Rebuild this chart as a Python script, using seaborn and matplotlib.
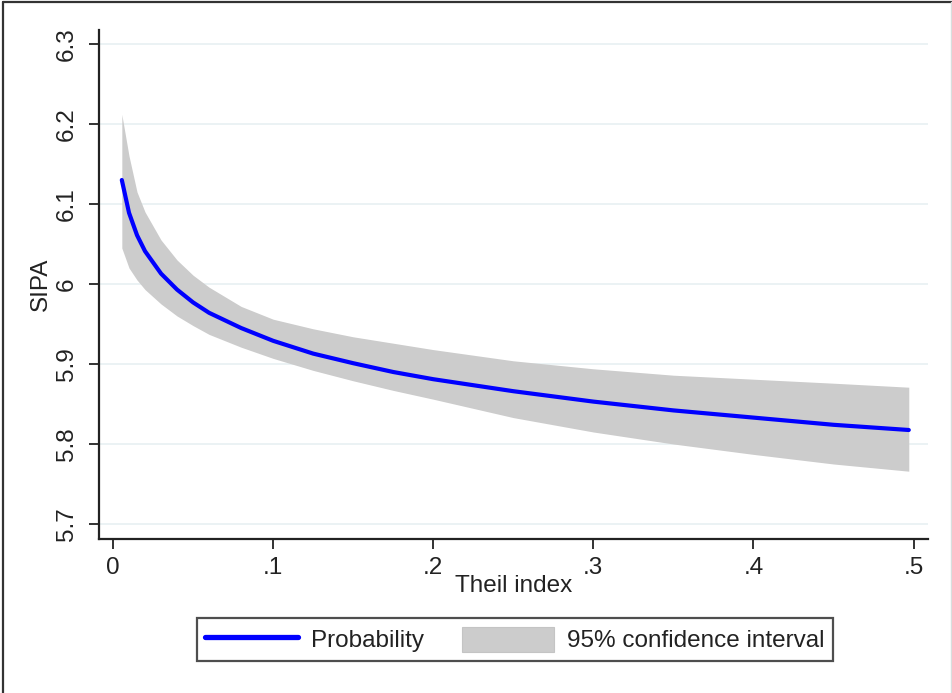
import numpy as np
import pandas as pd
import matplotlib
matplotlib.use("Agg")
import matplotlib.pyplot as plt
from matplotlib.lines import Line2D
from matplotlib.patches import Patch
import seaborn as sns

# ---- data ----
theil = [0.0055, 0.01, 0.015, 0.02, 0.03, 0.04, 0.05, 0.06, 0.08, 0.1,
         0.125, 0.15, 0.175, 0.2, 0.25, 0.3, 0.35, 0.4, 0.45, 0.497]
sipa = [6.130, 6.089, 6.061, 6.041, 6.013, 5.993, 5.977, 5.964, 5.945, 5.929,
        5.913, 5.901, 5.890, 5.881, 5.866, 5.853, 5.842, 5.833, 5.824, 5.8175]
ci_upper = [6.212, 6.160, 6.115, 6.090, 6.055, 6.030, 6.011, 5.996, 5.972, 5.956,
            5.944, 5.934, 5.926, 5.918, 5.904, 5.894, 5.886, 5.881, 5.876, 5.871]
ci_lower = [6.045, 6.020, 6.005, 5.993, 5.975, 5.960, 5.948, 5.937, 5.921, 5.907,
            5.892, 5.879, 5.867, 5.856, 5.833, 5.815, 5.800, 5.787, 5.775, 5.766]
x_ticks = [0, 0.1, 0.2, 0.3, 0.4, 0.5]
x_ticklabels = ["0", ".1", ".2", ".3", ".4", ".5"]
y_ticks = [5.7, 5.8, 5.9, 6.0, 6.1, 6.2, 6.3]
y_ticklabels = ["5.7", "5.8", "5.9", "6", "6.1", "6.2", "6.3"]
legend_labels = ["Probability", "95% confidence interval"]

df = pd.DataFrame({"theil": theil, "sipa": sipa, "lo": ci_lower, "hi": ci_upper})

sns.set_theme(style="white")
plt.rcParams["font.family"] = ["Liberation Sans", "DejaVu Sans"]

W, H = 953, 693
fig = plt.figure(figsize=(W / 100, H / 100), dpi=100)
fig.patch.set_facecolor("white")
ax = fig.add_axes([99 / W, 1 - 539 / H, (928 - 99) / W, (539 - 30) / H])

band_color = "#cccccc"
line_color = "#0000ff"
ax.fill_between(df["theil"], df["lo"], df["hi"], color=band_color, linewidth=0, zorder=2)
sns.lineplot(data=df, x="theil", y="sipa", ax=ax, color=line_color, linewidth=3.0,
             zorder=3, legend=False, solid_capstyle="round")

ax.set_xlim(-0.00875, 0.509)
ax.set_ylim(5.68125, 6.3175)
ax.set_xticks(x_ticks)
ax.set_xticklabels(x_ticklabels)
ax.set_yticks(y_ticks)
ax.set_yticklabels(y_ticklabels)

for y in y_ticks:
    ax.axhline(y, color="#e6eff1", linewidth=1.1, zorder=1)

for s in ["top", "right"]:
    ax.spines[s].set_visible(False)
for s in ["left", "bottom"]:
    ax.spines[s].set_color("#222222")
    ax.spines[s].set_linewidth(1.6)

fs = 17.5
ax.tick_params(axis="both", which="major", length=7, width=1.3, color="#222222",
               labelsize=fs, labelcolor="#222222", direction="out",
               bottom=True, left=True)
ax.tick_params(axis="x", pad=6)
ax.tick_params(axis="y", pad=8)
for lab in ax.get_yticklabels():
    lab.set_rotation(90)
    lab.set_va("center")
    lab.set_ha("right")

ax.set_xlabel("Theil index", fontsize=fs, color="#222222", labelpad=-3)
ax.set_ylabel("SIPA", fontsize=fs, color="#222222", labelpad=3)

handles = [Line2D([0], [0], color=line_color, linewidth=3.8, solid_capstyle="round"),
           Patch(facecolor=band_color, edgecolor="#c4c4c4", linewidth=0.8)]
leg = fig.legend(handles, legend_labels, loc="center", ncol=2,
                 bbox_to_anchor=(515 / W, 1 - 639.5 / H), fontsize=fs,
                 frameon=True, fancybox=False, edgecolor="#222222",
                 handlelength=3.8, handleheight=1.2, handletextpad=0.55,
                 columnspacing=1.55, borderpad=0.35, borderaxespad=0)
leg.get_frame().set_linewidth(1.6)
for t in leg.get_texts():
    t.set_color("#222222")

# outer frame of the graph region
fig.add_artist(Line2D([3 / W, 3 / W], [0, 1 - 2 / H], color="#333333", linewidth=1.6))
fig.add_artist(Line2D([3 / W, 1], [1 - 2 / H, 1 - 2 / H], color="#333333", linewidth=1.6))
fig.add_artist(Line2D([951 / W, 951 / W], [0, 1 - 2 / H], color="#d8dede", linewidth=1.0))

fig.savefig("out.png", dpi=100, facecolor="white")
